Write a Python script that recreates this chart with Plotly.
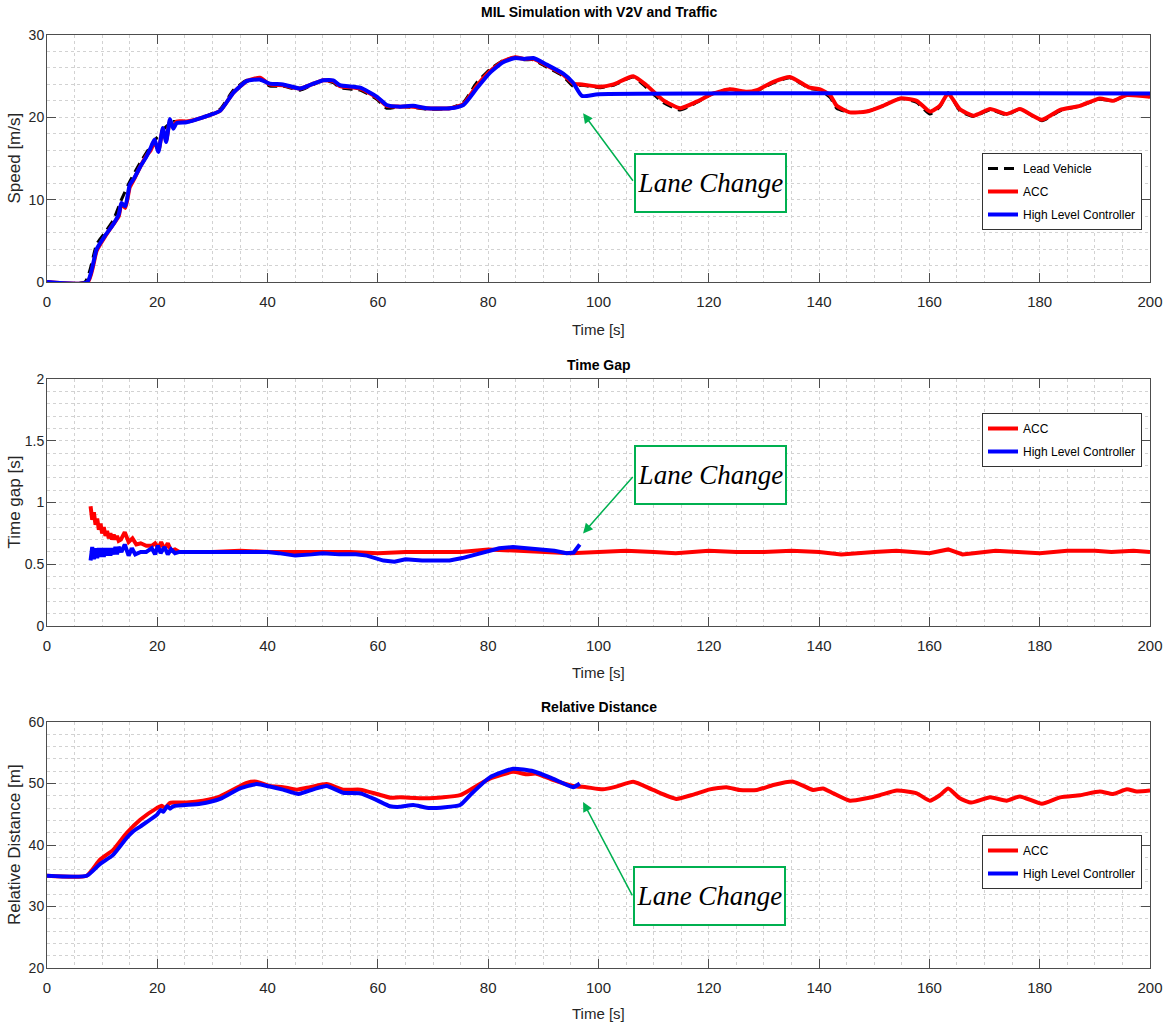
import plotly.graph_objects as go

# ---------------- data ----------------
# Speed panel
t_lead = [0, 6.9, 9, 10.5, 12, 13.5, 15, 16.9, 18.5, 19.9,
          21.5, 22.9, 25.3, 28.3, 31.4, 33.8, 36.2, 38.6, 40.4, 42.8,
          45.9, 48, 50.1, 51.9, 53.1, 56.8, 59.8, 61.6, 64, 66.4,
          68.8, 73.1, 75.5, 77.9, 80.3, 82.7, 84.9, 86.5, 88.2, 90.6,
          93.6, 95.4, 97, 100.3, 102.7, 106.3, 108.7, 111.7, 114.8, 117.8,
          120.8, 123.8, 126.9, 128.7, 131.7, 134.7, 138.3, 140.2, 142, 143.2,
          145.6, 148.6, 151.6, 154.7, 157.7, 160.1, 161.9, 163.4, 165.5, 168,
          171, 174, 176.4, 180.4, 183.7, 187.3, 190.9, 193.3, 195.8, 200]
v_lead = [0, 0, 4.6, 6.0, 7.5, 10.0, 12.2, 14.5, 16.2, 17.5,
          18.8, 19.5, 19.4, 20.0, 21.0, 23.3, 24.5, 24.6, 23.8, 23.8,
          23.3, 23.9, 24.5, 24.2, 23.6, 23.3, 22.2, 21.1, 21.3, 21.2,
          21.0, 21.1, 21.8, 24.2, 25.8, 26.9, 27.3, 27.0, 27.0, 26.1,
          25.0, 23.8, 23.9, 23.6, 23.9, 24.9, 23.6, 21.8, 20.9, 21.8,
          22.9, 23.4, 23.0, 23.2, 24.2, 24.8, 23.5, 23.3, 22.4, 21.1,
          20.6, 20.7, 21.4, 22.3, 21.8, 20.4, 21.3, 23.0, 20.8, 20.1,
          20.9, 20.3, 21.0, 19.6, 20.8, 21.4, 22.2, 22.0, 22.7, 22.5]

t_acc_v = [0, 7.4, 9, 10.5, 12, 13, 13.5, 14.2, 15, 15.8,
           16.9, 18, 18.8, 19.5, 20.2, 21, 21.6, 22.3, 22.9, 23.5,
           25.3, 28.3, 31.4, 33.8, 36.2, 38.6, 40.4, 42.8, 45.9, 48,
           50.1, 51.9, 53.1, 56.8, 59.8, 61.6, 64, 66.4, 68.8, 73.1,
           75.5, 77.9, 80.3, 82.7, 84.9, 86.5, 88.2, 90.6, 93.6, 95.4,
           97, 100.3, 102.7, 106.3, 108.7, 111.7, 114.8, 117.8, 120.8, 123.8,
           126.9, 128.7, 131.7, 134.7, 138.3, 140.2, 142, 143.2, 145.6, 148.6,
           151.6, 154.7, 157.7, 160.1, 161.9, 163.4, 165.5, 168, 171, 174,
           176.4, 180.4, 183.7, 187.3, 190.9, 193.3, 195.8, 200]
v_acc = [0, 0, 3.8, 5.5, 7.0, 8.0, 9.5, 9.0, 11.5, 12.5,
         14.0, 15.3, 16.0, 17.0, 16.0, 18.5, 17.2, 19.5, 18.8, 19.5,
         19.5, 20.0, 20.8, 23.0, 24.4, 24.8, 24.0, 23.9, 23.5, 24.0,
         24.5, 24.4, 23.8, 23.5, 22.4, 21.4, 21.3, 21.3, 21.1, 21.1,
         21.6, 23.8, 25.6, 26.8, 27.3, 27.1, 27.1, 26.3, 25.2, 24.1,
         24.0, 23.7, 24.0, 25.0, 23.9, 22.1, 21.1, 21.9, 22.9, 23.4,
         23.1, 23.3, 24.3, 24.9, 23.6, 23.4, 22.7, 21.4, 20.6, 20.7,
         21.4, 22.3, 22.0, 20.7, 21.4, 22.9, 21.0, 20.2, 21.0, 20.4,
         21.0, 19.7, 20.9, 21.4, 22.3, 22.0, 22.7, 22.5]

t_hlc_v = [0, 7.3, 9, 10.5, 12, 13, 13.5, 14.2, 15, 15.8,
           16.9, 18, 18.8, 19.5, 20.2, 21, 21.6, 22.3, 22.9, 23.5,
           25.3, 28.3, 31.4, 33.8, 36.2, 38.6, 40.4, 42.8, 45.9, 48,
           50.1, 51.9, 53.1, 56.8, 59.8, 61.6, 64, 66.4, 68.8, 73.1,
           75.5, 77.9, 80.3, 82.7, 84.9, 86.5, 88.2, 90.6, 93.6, 95.4,
           97, 100, 200]
v_hlc = [0, 0, 4.0, 5.6, 7.0, 8.2, 9.6, 9.2, 11.8, 12.6,
         14.0, 15.2, 16.3, 17.3, 15.8, 18.7, 17.0, 19.8, 18.6, 19.3,
         19.4, 20.0, 20.8, 23.0, 24.4, 24.6, 24.1, 24.0, 23.5, 24.0,
         24.5, 24.5, 23.9, 23.6, 22.5, 21.5, 21.3, 21.4, 21.1, 21.1,
         21.5, 23.5, 25.4, 26.7, 27.2, 27.1, 27.2, 26.4, 25.3, 24.2,
         22.6, 22.8, 22.9]

# Time gap panel
t_acc_g = [7.9, 8.2, 8.5, 8.8, 9.1, 9.4, 9.7, 10.0, 10.3, 10.6,
           10.9, 11.2, 11.5, 11.8, 12.1, 12.4, 12.7, 13.0, 13.4, 14.1,
           14.8, 15.5, 16.2, 17, 18, 19, 19.6, 20.2, 20.7, 21.3,
           21.9, 22.5, 23.2, 24, 26, 30, 35, 40, 45, 50,
           55, 60, 65, 70, 75, 80, 85, 90, 95, 100,
           105, 110, 114, 120, 125, 130, 135, 140, 144, 150,
           154, 157, 160, 163.4, 166, 168, 172, 176, 180, 185,
           190, 193, 197, 200]
g_acc = [0.97, 0.86, 0.92, 0.82, 0.87, 0.78, 0.83, 0.75, 0.80, 0.73,
         0.77, 0.71, 0.75, 0.70, 0.74, 0.70, 0.73, 0.69, 0.70, 0.76,
         0.68, 0.71, 0.66, 0.67, 0.65, 0.65, 0.67, 0.63, 0.68, 0.62,
         0.67, 0.61, 0.62, 0.60, 0.60, 0.60, 0.61, 0.60, 0.60, 0.60,
         0.60, 0.59, 0.60, 0.60, 0.60, 0.62, 0.61, 0.60, 0.59, 0.60,
         0.61, 0.60, 0.59, 0.61, 0.60, 0.60, 0.61, 0.60, 0.58, 0.60,
         0.61, 0.60, 0.59, 0.62, 0.58, 0.59, 0.61, 0.60, 0.59, 0.61,
         0.61, 0.60, 0.61, 0.60]

t_hlc_g = [7.9, 8.2, 8.5, 8.8, 9.1, 9.4, 9.7, 10.0, 10.3, 10.6,
           10.9, 11.2, 11.5, 11.8, 12.1, 12.4, 12.7, 13.0, 13.5, 14.1,
           14.8, 15.4, 16.0, 17, 18, 19, 19.6, 20.1, 20.6, 21.3,
           21.9, 22.5, 23.2, 24, 26, 30, 35, 40, 42, 45,
           48, 50, 53, 56, 58, 61, 63, 65, 68, 70,
           73, 75.3, 77, 79.7, 82, 84.5, 87, 89.4, 92, 94.2,
           95.5, 96.6]
g_hlc = [0.53, 0.64, 0.54, 0.63, 0.55, 0.63, 0.56, 0.63, 0.56, 0.63,
         0.57, 0.63, 0.57, 0.63, 0.58, 0.64, 0.58, 0.64, 0.60, 0.66,
         0.57, 0.63, 0.58, 0.60, 0.60, 0.63, 0.58, 0.65, 0.59, 0.64,
         0.58, 0.62, 0.59, 0.60, 0.60, 0.60, 0.60, 0.60, 0.59, 0.57,
         0.58, 0.59, 0.58, 0.58, 0.57, 0.53, 0.52, 0.54, 0.53, 0.53,
         0.53, 0.55, 0.57, 0.61, 0.63, 0.64, 0.63, 0.625, 0.61, 0.59,
         0.595, 0.66]

# Relative distance panel
t_acc_d = [0, 7.2, 9.6, 12, 14.4, 16.9, 19.9, 20.8, 21.4, 22.2,
           22.9, 25.3, 28.3, 31.4, 33.8, 36.2, 38.0, 40.4, 42.8, 45.3,
           47.7, 50.7, 53.7, 56.8, 59.8, 62.2, 64, 68.8, 74.9, 77.9,
           80.3, 84.5, 86.9, 88.7, 91.7, 95.4, 97.8, 100.8, 103.2, 106.3,
           109.9, 114.1, 117.2, 120.2, 123.2, 125.6, 128.7, 131.7, 135.3, 138.9,
           140.7, 142.6, 145.6, 148.6, 151, 154.1, 157.7, 160.1, 161.9, 163.4,
           165.5, 167.6, 171, 174, 176.4, 180.4, 183.7, 187.3, 190.9, 193.3,
           195.8, 197.6, 200]
d_acc = [35, 35, 37.6, 39.2, 41.9, 44.1, 46.0, 46.4, 46.0, 46.8,
         46.9, 46.9, 47.2, 47.9, 49.0, 50.1, 50.3, 49.6, 49.4, 49.0,
         49.4, 49.9, 49.0, 49.0, 48.3, 47.7, 47.75, 47.6, 48.1, 49.6,
         50.8, 51.9, 51.5, 51.6, 50.6, 49.6, 49.4, 49.05, 49.5, 50.3,
         48.95, 47.5, 48.2, 49.05, 49.4, 48.95, 48.95, 49.75, 50.3, 48.95,
         49.2, 48.4, 47.2, 47.6, 48.1, 48.85, 48.4, 47.2, 48.1, 49.2,
         47.6, 46.9, 47.75, 47.2, 47.9, 46.7, 47.75, 48.1, 48.7, 48.3,
         49.05, 48.7, 48.85]

t_hlc_d = [0, 7.2, 9.6, 12, 14.4, 15.6, 16.9, 19.9, 20.6, 21.1,
           21.8, 22.3, 22.9, 27.8, 31.4, 35, 38, 40.4, 42.8, 45.6,
           48.3, 50.7, 53.7, 56.8, 59.8, 62.2, 64, 66.4, 69.4, 74.9,
           76.7, 80.3, 84.5, 88.2, 91.7, 95.4, 96.6]
d_hlc = [35, 35, 36.9, 38.4, 41.1, 42.2, 43.0, 44.9, 45.7, 45.4,
         46.3, 45.9, 46.3, 46.7, 47.5, 49.2, 49.9, 49.5, 49.0, 48.3,
         49.05, 49.6, 48.5, 48.4, 47.3, 46.3, 46.2, 46.5, 46.0, 46.5,
         48.1, 51.0, 52.4, 52.0, 50.8, 49.4, 50.0]

panel_titles = ["MIL Simulation with V2V and Traffic", "Time Gap", "Relative Distance"]
y_titles = ["Speed [m/s]", "Time gap [s]", "Relative Distance [m]"]
x_title = "Time [s]"
note_text = "Lane Change"

# ---------------- styling ----------------
W, H = 1168, 1025
NARROW = "Liberation Sans Narrow, Arial Narrow, Liberation Sans, Arial, sans-serif"
SANS = "Liberation Sans, Arial, sans-serif"
SERIF = "Liberation Serif, Times New Roman, serif"
GREEN = "#00b050"
RED = "#ff0000"
BLUE = "#0000ff"
AXC = "#4d4d4d"
GRIDC = "#d2d2d2"
LW = 4

XDOM = [47 / W, 1150 / W]
# pixel top/bottom of each panel's plot area
PANELS = [(35, 282), (379, 626), (722, 968)]


def ydom(top, bot):
    return [1 - bot / H, 1 - top / H]


fig = go.Figure()

fig.add_trace(go.Scatter(x=t_lead, y=v_lead, name="Lead Vehicle", mode="lines",
                         line=dict(color="black", width=3, dash="10px,6px", shape="spline", smoothing=0.5),
                         xaxis="x", yaxis="y", legend="legend", legendgroup="g1"))
fig.add_trace(go.Scatter(x=t_acc_v, y=v_acc, name="ACC", mode="lines",
                         line=dict(color=RED, width=LW, shape="spline", smoothing=0.5),
                         xaxis="x", yaxis="y", legend="legend", legendgroup="g2"))
fig.add_trace(go.Scatter(x=t_hlc_v, y=v_hlc, name="High Level Controller", mode="lines",
                         line=dict(color=BLUE, width=LW, shape="spline", smoothing=0.5),
                         xaxis="x", yaxis="y", legend="legend", legendgroup="g3"))

fig.add_trace(go.Scatter(x=t_acc_g, y=g_acc, name="ACC", mode="lines",
                         line=dict(color=RED, width=LW),
                         xaxis="x2", yaxis="y2", legend="legend2", legendgroup="h1"))
fig.add_trace(go.Scatter(x=t_hlc_g, y=g_hlc, name="High Level Controller", mode="lines",
                         line=dict(color=BLUE, width=LW),
                         xaxis="x2", yaxis="y2", legend="legend2", legendgroup="h2"))

fig.add_trace(go.Scatter(x=t_acc_d, y=d_acc, name="ACC", mode="lines",
                         line=dict(color=RED, width=LW, shape="spline", smoothing=0.5),
                         xaxis="x3", yaxis="y3", legend="legend3", legendgroup="k1"))
fig.add_trace(go.Scatter(x=t_hlc_d, y=d_hlc, name="High Level Controller", mode="lines",
                         line=dict(color=BLUE, width=LW, shape="spline", smoothing=0.5),
                         xaxis="x3", yaxis="y3", legend="legend3", legendgroup="k2"))


def xaxis(anchor):
    return dict(domain=XDOM, anchor=anchor, range=[0, 200], tick0=0, dtick=20,
                ticks="inside", ticklen=9, tickcolor=AXC, showline=True, linecolor=AXC,
                linewidth=1, mirror="ticks", showgrid=True, gridcolor=GRIDC, griddash="dot",
                minor=dict(dtick=5, showgrid=True, gridcolor=GRIDC, griddash="dot", ticks=""),
                zeroline=False, automargin=False, ticklabelstandoff=6,
                tickfont=dict(family=NARROW, size=15, color="#262626"))


def yaxis(anchor, rng, dt, mdt):
    return dict(anchor=anchor, range=rng, tick0=rng[0], dtick=dt,
                ticks="inside", ticklen=9, tickcolor=AXC, showline=True, linecolor=AXC,
                linewidth=1, mirror="ticks", showgrid=True, gridcolor=GRIDC, griddash="dot",
                minor=dict(dtick=mdt, showgrid=True, gridcolor=GRIDC, griddash="dot", ticks=""),
                zeroline=False, automargin=False, ticklabelstandoff=-1,
                tickfont=dict(family=NARROW, size=14, color="#262626"))


legend_common = dict(xanchor="left", yanchor="top", bgcolor="white", bordercolor="#333333",
                     borderwidth=1, font=dict(family=NARROW, size=12, color="black"),
                     traceorder="grouped", tracegroupgap=4, itemwidth=30)

fig.update_layout(
    width=W, height=H, margin=dict(l=0, r=0, t=0, b=0),
    paper_bgcolor="white", plot_bgcolor="white",
    xaxis=xaxis("y"),
    xaxis2=xaxis("y2"),
    xaxis3=xaxis("y3"),
    yaxis=dict(domain=ydom(*PANELS[0]), **yaxis("x", [0, 30], 10, 2)),
    yaxis2=dict(domain=ydom(*PANELS[1]), **yaxis("x2", [0, 2], 0.5, 0.1)),
    yaxis3=dict(domain=ydom(*PANELS[2]), **yaxis("x3", [20, 60], 10, 2)),
    legend=dict(x=982 / W, y=1 - 153 / H, **legend_common),
    legend2=dict(x=982 / W, y=1 - 413 / H, **legend_common),
    legend3=dict(x=982 / W, y=1 - 835 / H, **legend_common),
)

XC = (XDOM[0] + XDOM[1]) / 2
# panel titles
title_y_px = [12, 365, 707]
for txt, ypx in zip(panel_titles, title_y_px):
    fig.add_annotation(text="<b>" + txt + "</b>", xref="paper", yref="paper",
                       x=XC, y=1 - ypx / H, xanchor="center", yanchor="middle",
                       showarrow=False, font=dict(family=NARROW, size=14, color="black"))

# x-axis titles
xtitle_y_px = [329, 672, 1013]
for ypx in xtitle_y_px:
    fig.add_annotation(text=x_title, xref="paper", yref="paper", x=XC, y=1 - ypx / H,
                       xanchor="center", yanchor="middle", showarrow=False,
                       font=dict(family=NARROW, size=15, color="#262626"))

# y-axis titles
for txt, (top, bot) in zip(y_titles, PANELS):
    fig.add_annotation(text=txt, xref="paper", yref="paper", x=14 / W, y=1 - (top + bot) / 2 / H,
                       xanchor="center", yanchor="middle", textangle=-90, showarrow=False,
                       font=dict(family=SANS, size=17, color="#262626"))

# Lane change call-outs: (box centre x, box centre y, arrow tip x, tip y, tail offset px)
callouts = [("x", "y", 120.3, 12.0, 97.2, 20.5, 51, 69),
            ("x2", "y2", 120.3, 1.22, 97.2, 0.75, 51, -58),
            ("x3", "y3", 120.1, 31.7, 97.2, 47.0, 50, 95)]
for xr, yr, bx, by, tx, ty, axo, ayo in callouts:
    fig.add_annotation(xref=xr, yref=yr, x=tx, y=ty, ax=axo, ay=ayo, text="",
                       showarrow=True, arrowhead=2, arrowsize=1.3, arrowwidth=1.5,
                       arrowcolor=GREEN, standoff=0)
    fig.add_annotation(xref=xr, yref=yr, x=bx, y=by, text=note_text, showarrow=False,
                       font=dict(family=SERIF, size=27, color="black", style="italic"),
                       bgcolor="white", bordercolor=GREEN, borderwidth=2, borderpad=2,
                       width=145, height=52, xanchor="center", yanchor="middle")

fig.write_html("out.html")
